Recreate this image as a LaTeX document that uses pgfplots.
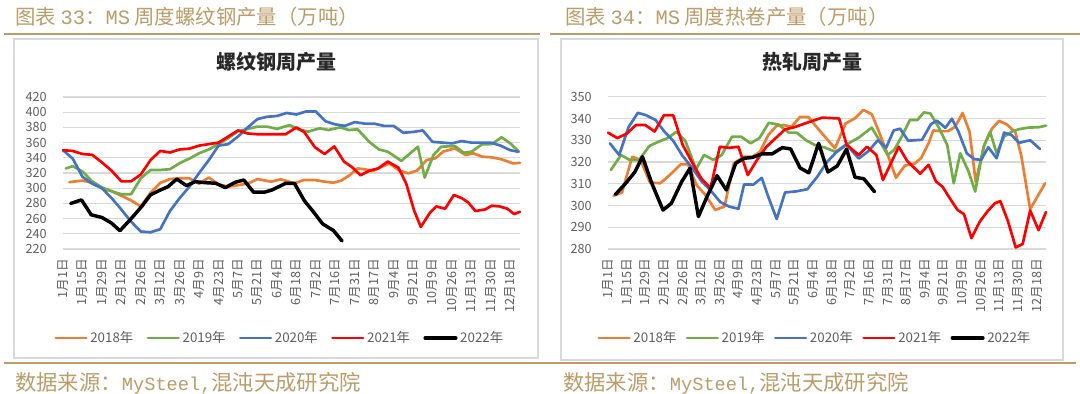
\documentclass[border=0pt]{standalone}
\usepackage{fontspec}
\setmainfont{Noto Sans CJK SC}
\newfontfamily\latinmono{Liberation Mono}
\usepackage{pgfplots}
\pgfplotsset{compat=1.18}
\definecolor{gold}{RGB}{188,156,104}
\definecolor{boxgray}{RGB}{217,217,217}
\definecolor{gridgray}{RGB}{217,217,217}
\definecolor{tickgray}{RGB}{95,95,95}
\definecolor{titlecol}{RGB}{40,40,40}
\definecolor{c18}{RGB}{237,125,49}
\definecolor{c19}{RGB}{112,173,71}
\definecolor{c20}{RGB}{68,114,196}
\definecolor{c21}{RGB}{255,0,0}
\pgfplotsset{
 msaxis/.style={
  scale only axis, clip=false,
  xmin=0, xmax=47,
  xtick={0,2,...,46},
  xticklabels={1月1日,1月15日,1月29日,2月12日,2月26日,3月12日,3月26日,4月9日,4月23日,5月7日,5月21日,6月4日,6月18日,7月2日,7月16日,7月31日,8月17日,9月4日,9月21日,10月9日,10月26日,11月13日,11月30日,12月18日},
  axis line style={draw=none},
  major tick length=0pt,
  ymajorgrids, major grid style={draw=gridgray, line width=0.9pt},
  tick label style={text=tickgray},
  yticklabel style={font=\fontsize{9.5}{10}\selectfont, inner sep=0pt, anchor=east},
  yticklabel shift=12pt,
  xticklabel style={font=\fontsize{9.5}{10}\selectfont, rotate=90, anchor=east, inner sep=0pt},
  xticklabel shift=7.5pt,
  /pgf/number format/assume math mode=true,
  every axis plot/.append style={mark=none, line join=round, line cap=round},
  legend columns=5,
  legend style={draw=none, fill=none, font=\fontsize{10}{10}\selectfont, text=tickgray},
  legend image code/.code={\draw[#1] (0pt,0pt) -- (23pt,0pt);},
 },
 s18/.style={c18, line width=2pt},
 s19/.style={c19, line width=2pt},
 s20/.style={c20, line width=2pt},
 s21/.style={c21, line width=2pt},
 s22/.style={black, line width=2.6pt},
}
\begin{document}
\begin{tikzpicture}[x=0.75pt,y=0.75pt]
\fill[white] (0,0) rectangle (1080,393);
% headers
\node[anchor=west, text=gold, font=\fontsize{15.3}{15.3}\selectfont, inner sep=0pt] at (15,376) {图表 {\latinmono 33}：{\latinmono MS} 周度螺纹钢产量（万吨）};
\node[anchor=west, text=gold, font=\fontsize{15.3}{15.3}\selectfont, inner sep=0pt] at (565,376) {图表 {\latinmono 34}：{\latinmono MS} 周度热卷产量（万吨）};
\draw[gold, line width=1.5pt] (4,358.5) -- (540,358.5);
\draw[gold, line width=1.5pt] (550,358.5) -- (1080,358.5);
% boxes
\draw[boxgray, line width=0.8pt] (14,35) rectangle (538,354);
\draw[boxgray, line width=0.8pt] (561,33) rectangle (1063,354);
% bottom lines & sources
\draw[gold, line width=1.5pt] (4,30.5) -- (540,30.5);
\draw[gold, line width=1.5pt] (540,30.5) -- (1076,30.5);
\node[anchor=west, text=gold, font=\fontsize{16}{16}\selectfont, inner sep=0pt] at (15,10) {数据来源：{\latinmono\fontsize{14}{14}\selectfont MySteel,}混沌天成研究院};
\node[anchor=west, text=gold, font=\fontsize{16}{16}\selectfont, inner sep=0pt] at (563,10) {数据来源：{\latinmono\fontsize{14}{14}\selectfont MySteel,}混沌天成研究院};
% titles
\node[text=titlecol, font=\bfseries\fontsize{15}{15}\selectfont] at (276,331) {螺纹钢周产量};
\node[text=titlecol, font=\bfseries\fontsize{15}{15}\selectfont] at (812,331) {热轧周产量};

\begin{axis}[msaxis, at={(47.25pt,108pt)}, anchor=south west,
  width=342.75pt, height=114pt,
  ymin=220, ymax=420, ytick={220,240,...,420},
  legend style={at={(0.475,-0.586)}, anchor=center, /tikz/every even column/.append style={column sep=8pt}}]
\addplot[s18] coordinates {(0.65,308) (2,310) (3,307) (4,300) (5,296) (6,290) (7,284) (8,276) (9,294) (10,307) (11,312) (12,313) (13,313) (14,306) (15,314) (16,305) (17,302) (18,304) (19,306) (20,312) (21.4,308.6) (22.4,311.7) (23.8,306.4) (24.8,310.8) (25.9,310.8) (26.9,308.6) (27.8,307.2) (28.6,309.9) (29.5,317.3) (30.3,326.1) (31,324.8) (31.9,323) (32.8,328.3) (33.6,332.6) (34.5,323.8) (35.5,319.5) (36.4,323) (37.4,337.1) (38.3,339.4) (39.1,348.1) (40.3,352.5) (41.4,343.7) (42.2,345.9) (43.1,341.5) (44.1,340.6) (45.1,338) (46.3,332.6) (47,333.4)};
\addplot[s19] coordinates {(0.3,326) (1,329) (2,322) (3,309) (4,301) (5,296) (6,292) (7,292) (8,313) (9,324) (10,324) (11,325) (12,333) (13,339) (14,346) (15,351) (16,358) (17,366) (18,375) (19,378) (20,381) (21,381) (22,378) (23.3,383) (24.2,377.5) (25.2,374.4) (26.4,378.8) (27.3,376.6) (28.5,380) (29.4,376.6) (30.3,377.5) (31.5,361) (32.5,351) (33.4,348) (34.8,336) (36.5,354.6) (37.2,314) (38.1,343.7) (38.9,354.6) (40.3,355.5) (41.2,346.7) (42,348) (43.1,357.7) (44.1,358) (45.1,367) (46,359) (46.9,348)};
\addplot[s20] coordinates {(0,350) (1,339) (2,315) (3,306) (4,300) (5,287) (6,272) (7,256) (8,243) (9,242) (10,246) (11,270) (12,287) (13,302) (14,320) (15,337) (16,356) (17,358) (18,368) (19,380) (20,391) (21,394) (22,395) (23,399) (24,397) (25,401) (26,401) (27,388) (28,384) (29,382) (30,387) (31,385) (32,385) (33,382) (34,382) (35,373) (36,374) (37,376) (38,361) (39,360) (40,359) (41,362) (42,360) (43,360) (44,360) (45,356) (46,350) (46.8,348)};
\addplot[s21] coordinates {(0,350) (1,349) (2,345) (3,344) (4,334) (5,323) (6,309) (7,309) (8,318) (9,337) (10,349) (11,347) (12,351) (13,352) (14,356) (15,358) (16,360) (17,368) (18,376) (19,372) (20,371) (21,371) (22,371) (22.9,371) (24,380) (24.8,374) (25.9,354) (26.9,345) (27.9,355) (28.9,335) (29.7,328) (30.6,317) (31.5,323) (32.4,326) (33.4,335) (34.5,327) (35.3,306) (36.1,271) (36.8,249) (37.7,267) (38.4,276) (39.3,273) (40.2,291) (41,287) (41.7,281) (42.4,270) (43.4,272) (44.1,277) (44.9,276) (45.7,273) (46.4,266) (47,269)};
\addplot[s22] coordinates {(0.8,280) (1.9,284.6) (2.9,265) (4,261.5) (5,254) (5.85,244) (6.9,258.4) (8.1,276) (9,291.2) (9.8,296.4) (10.8,302) (11.7,312) (12.7,303.4) (13.6,308.6) (14.6,307.3) (15.7,306.5) (16.7,300.8) (17.7,307.8) (18.6,310.8) (19.6,294.7) (20.7,294.7) (21.5,297.7) (22.9,306.4) (23.8,306.4) (24.8,284) (25.9,266.5) (26.7,253) (27.8,244.5) (28.7,230.5)};
\legend{2018年,2019年,2020年,2021年,2022年}
\end{axis}

\begin{axis}[msaxis, at={(456pt,108pt)}, anchor=south west,
  width=328.5pt, height=114.2pt,
  ymin=280, ymax=350, ytick={280,290,...,350},
  legend style={at={(0.473,-0.584)}, anchor=center, /tikz/every even column/.append style={column sep=5pt}}]
\addplot[s18] coordinates {(0.6,304.5) (1.5,306) (2.6,322.4) (3.5,320.9) (4.5,310.6) (5.6,310.2) (6.7,314.3) (7.8,318.9) (8.6,318.9) (9.5,309.4) (10.4,305.1) (11.5,298) (12.5,299.5) (13.5,319.4) (14.6,322.4) (15.5,322.4) (16.3,324.7) (17.2,332.4) (18.1,336.7) (18.8,337) (19.7,336.2) (20.6,340.7) (21.5,340.7) (22.5,335.5) (23.2,332) (24.35,326.3) (25.5,337.7) (26.5,340.1) (27.4,343.9) (28.3,342) (29,334.7) (29.9,324.7) (30.9,312.8) (31.85,318.3) (32.9,319.3) (33.6,321.8) (34.4,328.6) (34.9,334.5) (35.7,334.2) (36.5,334.2) (37.25,336.2) (38.05,342.5) (38.8,333.9) (39.45,311) (40.4,328) (41.2,335.3) (41.95,338.9) (42.75,337.4) (43.7,333.8) (44.35,322.8) (45.3,298.3) (46.9,310.2)};
\addplot[s19] coordinates {(0.3,316.3) (1.4,323.2) (2.3,321) (3.3,320.8) (4.45,327.4) (5.35,329.2) (6.4,331) (7.35,333.9) (8.3,329.7) (9.45,316.7) (10.3,323.2) (11.3,321) (12.2,323.2) (13.3,331.6) (14.3,331.6) (15.3,328.6) (16.25,331) (17.25,338) (18.3,337.2) (19.4,333.5) (20.25,333.5) (21.25,330) (22.2,327.8) (23.3,326.6) (24.4,324.7) (25.6,328.1) (26.9,331.2) (28.3,335.8) (29.1,330.1) (30,323.2) (30.7,325.5) (31.5,331.6) (32.4,339.3) (33.2,339.3) (33.9,342.8) (34.6,342.3) (35.5,335.8) (36.4,327.8) (37.1,310.2) (37.8,324) (38.7,315.5) (39.4,306.4) (40.3,327) (41,333.9) (41.7,324) (42.5,331.6) (43.3,333.9) (44.1,335.1) (45.1,335.8) (46.2,336) (47,336.7)};
\addplot[s20] coordinates {(0.2,328.6) (1.2,323.2) (2.2,336) (3.2,342.6) (4.1,341.5) (5.1,339.3) (6.05,334) (7,329.7) (8,322.8) (9,317.5) (10,311.3) (11,307) (12.05,301.6) (13,299.5) (14,298.5) (14.6,309.7) (15.6,309.6) (16.5,312.7) (17.2,304) (18.1,293.8) (19,306) (20.2,306.5) (21.4,307.5) (22.5,313.5) (23.5,320) (24.5,324.5) (25.6,328) (26.9,321.6) (27.95,325) (28.95,330) (29.85,326.6) (30.65,334.5) (31.35,335.3) (32.2,329.8) (33.7,330.2) (34.65,337.4) (35.3,339) (36.2,335.7) (36.9,339.9) (37.6,334) (38.5,324) (39.3,321.3) (40.05,321) (40.8,326.8) (41.7,321.7) (42.5,333.5) (43.3,332.4) (44.1,328.8) (45.3,330) (46.35,326)};
\addplot[s21] coordinates {(0,333.5) (1,331) (2,333) (3,337) (4,337) (5,334) (6,341.5) (7,341.5) (8,328) (9,320) (10,312.5) (11,308) (12,327) (13,326.5) (14,327) (15,314) (16,321) (17,327) (18,331) (19,335) (20,336) (21,337.5) (22,339) (23,340.4) (24.8,340) (25.6,328) (26.9,323.2) (27.8,327) (28.8,323.2) (29.5,311.7) (31.2,327) (32.1,320.5) (33.5,314.6) (34.4,318.7) (35.2,311) (35.9,308.6) (36.8,302.5) (37.5,298) (38.2,296) (39,285) (39.9,292.6) (40.7,297.2) (41.5,301) (42.1,302) (42.9,293) (43.75,280.7) (44.5,282.3) (45.3,297.7) (46.2,288.7) (47,297)};
\addplot[s22] coordinates {(0.8,305.1) (1.9,310.2) (2.9,315.5) (3.7,322.4) (4.7,310.2) (5.9,297.9) (6.8,301) (7.9,310.9) (8.8,317.1) (9.7,294.9) (10.7,304.8) (11.7,313.7) (12.7,307.1) (13.7,319.4) (14.6,321.7) (15.5,322.1) (16.5,323.7) (17.6,323.7) (18.7,326.6) (19.6,326) (20.6,317.3) (21.55,315) (22.6,328.6) (23.6,315.4) (24.6,318.2) (25.6,325.9) (26.5,313) (27.45,312.3) (28.6,306.3)};
\legend{2018年,2019年,2020年,2021年,2022年}
\end{axis}
\pgfresetboundingbox
\path[use as bounding box] (0,0) rectangle (1080,393);
\end{tikzpicture}
\end{document}
